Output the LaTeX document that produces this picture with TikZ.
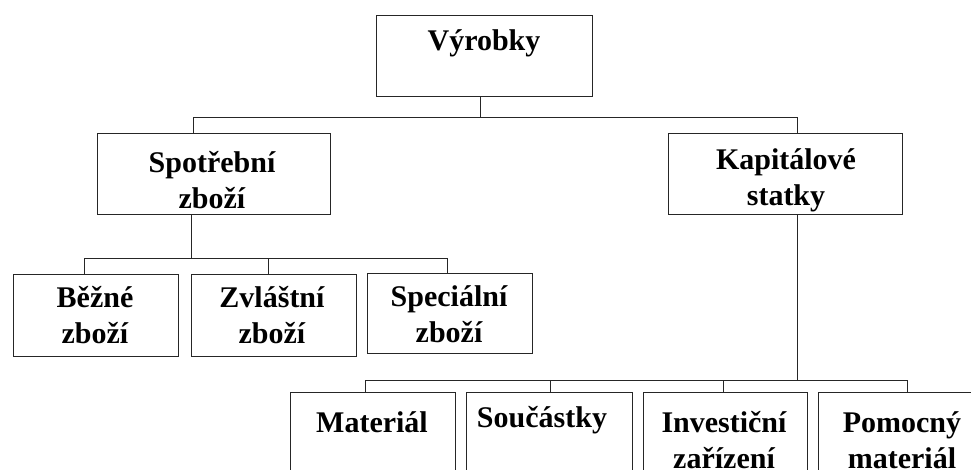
\documentclass[tikz,border=0pt]{standalone}
\usepackage{fontspec}
\setmainfont{Liberation Serif}
\begin{document}
\begin{tikzpicture}[x=1pt,y=-1pt,
  box/.style={draw=black!85,line width=1.3pt,rectangle,inner sep=0pt,anchor=north west},
  lbl/.style={font=\fontsize{30}{36}\selectfont\bfseries,align=center,inner sep=0pt},
  conn/.style={draw=black!85,line width=1pt}]
\useasboundingbox (0,0) rectangle (971,469);
\clip (0,0) rectangle (971,469);
% boxes
\node[box,minimum width=216pt,minimum height=81pt] (vyr) at (376,15) {};
\node[box,minimum width=233pt,minimum height=81pt] (spo) at (97,133) {};
\node[box,minimum width=234pt,minimum height=81pt] (kap) at (668,133) {};
\node[box,minimum width=165pt,minimum height=82pt] (bez) at (13,274) {};
\node[box,minimum width=165pt,minimum height=82pt] (zvl) at (191,274) {};
\node[box,minimum width=165pt,minimum height=80pt] (spe) at (367,273) {};
\node[box,minimum width=165pt,minimum height=100pt] (mat) at (290,392) {};
\node[box,minimum width=166pt,minimum height=100pt] (sou) at (466,392) {};
\node[box,minimum width=164pt,minimum height=100pt] (inv) at (643,392) {};
\node[box,minimum width=168pt,minimum height=100pt] (pom) at (818,392) {};
% texts
\node[lbl] (tvyr) at (484,43) {Výrobky};
\node[lbl] (tspo) at (212,180) {Spotřební\\zboží};
\begin{scope}
\clip (kap.north west) rectangle (kap.south east);
\node[lbl] (tkap) at (786,180) {Kapitálové\\statky};
\end{scope}
\node[lbl] (tbez) at (95,315) {Běžné\\zboží};
\node[lbl] (tzvl) at (272,315) {Zvláštní\\zboží};
\node[lbl] (tspe) at (449,314) {Speciální\\zboží};
\node[lbl] (tmat) at (372,422) {Materiál};
\node[lbl] (tsou) at (542,420) {Součástky};
\node[lbl] (tinv) at (724,440) {Investiční\\zařízení};
\node[lbl] (tpom) at (902,440) {Pomocný\\materiál};
% connector junctions
\coordinate (t1) at (480,117);
\coordinate (a1) at (193,117);
\coordinate (a2) at (797,117);
\coordinate (t2) at (191,258);
\coordinate (b1) at (84,258);
\coordinate (b2) at (268,258);
\coordinate (b3) at (447,258);
\coordinate (t3) at (797,380);
\coordinate (c1) at (365,380);
\coordinate (c2) at (550,380);
\coordinate (c3) at (723,380);
\coordinate (c4) at (907,380);
% level 1
\draw[conn] (vyr.south -| t1) -- (t1);
\draw[conn] (spo.north -| a1) -- (a1) -- (a2) -- (kap.north -| a2);
% level 2
\draw[conn] (spo.south -| t2) -- (t2);
\draw[conn] (bez.north -| b1) -- (b1) -- (b3) -- (spe.north -| b3);
\draw[conn] (b2) -- (zvl.north -| b2);
% level 3
\draw[conn] (kap.south -| t3) -- (t3);
\draw[conn] (mat.north -| c1) -- (c1) -- (c4) -- (pom.north -| c4);
\draw[conn] (c2) -- (sou.north -| c2);
\draw[conn] (c3) -- (inv.north -| c3);
\end{tikzpicture}
\end{document}
